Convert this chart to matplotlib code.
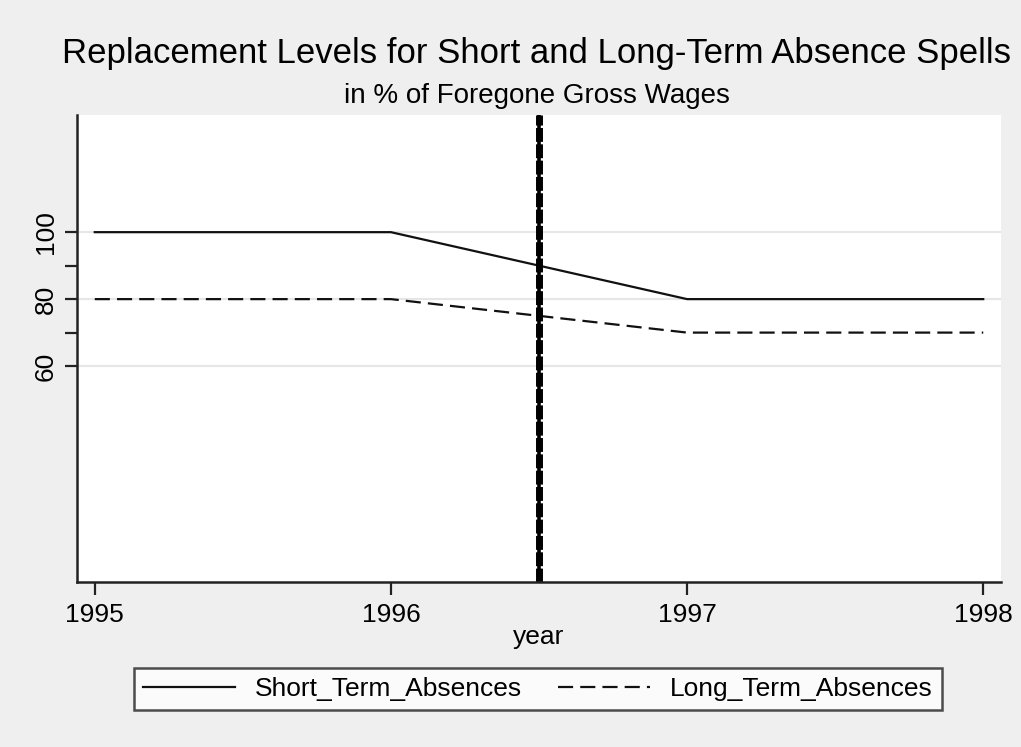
import matplotlib.pyplot as plt
from matplotlib import font_manager

years = [1995, 1996, 1997, 1998]
short_term = [100, 100, 80, 80]
long_term = [80, 80, 70, 70]
reform_year = 1996.5
y_major = [60, 80, 100]
y_minor = [70, 90]

names = {f.name for f in font_manager.fontManager.ttflist}
fam = 'Liberation Sans Narrow' if 'Liberation Sans Narrow' in names else 'Liberation Sans'
plt.rcParams['font.family'] = [fam, 'DejaVu Sans']

bg = '#efefef'
fig = plt.figure(figsize=(10.21, 7.47), dpi=100, facecolor=bg)
ax = fig.add_axes([77/1021, 1 - 582/747, (1001 - 77)/1021, (582 - 115)/747])
ax.set_facecolor('white')

ax.plot(years, short_term, color='#111111', lw=1.6, label='Short_Term_Absences')
ax.plot(years, long_term, color='#111111', lw=1.6, ls=(0, (6.8, 3.2)), label='Long_Term_Absences')
# thick reform marker: solid core plus wider dashed blocks
ax.axvline(reform_year, color='black', lw=2.6)
ax.axvline(reform_year, color='black', lw=5, ls=(0, (2, 0.35)))

ax.set_xlim(1994.94, 1998.06)
ax.set_ylim(-4.5, 135)
ax.set_xticks(years)
ax.set_yticks(y_major)
ax.set_yticks(y_minor, minor=True)
ax.grid(axis='y', which='major', color='#e6e6e6', lw=1.5)
ax.set_axisbelow(True)

for s in ['top', 'right']:
    ax.spines[s].set_visible(False)
for s in ['left', 'bottom']:
    ax.spines[s].set_linewidth(1.8)
    ax.spines[s].set_color('#222222')

ax.tick_params(axis='both', which='both', length=9, width=1.6, color='#222222', labelsize=19)
ax.tick_params(axis='x', which='major', pad=6)
ax.tick_params(axis='y', which='major', labelrotation=90, pad=5)
for t in ax.get_yticklabels():
    t.set_va('center')
ax.set_xlabel('year', fontsize=19, labelpad=-1)

fig.text(537/1021, 1 - 54/747, 'Replacement Levels for Short and Long-Term Absence Spells',
         ha='center', va='center', fontsize=25)
fig.text(537/1021, 1 - 96/747, 'in % of Foregone Gross Wages',
         ha='center', va='center', fontsize=20)

leg = fig.legend(loc='center', bbox_to_anchor=(538/1021, 1 - 689/747), ncol=2,
                 fontsize=19, frameon=True, fancybox=False, edgecolor='#222222',
                 handlelength=3.5, handletextpad=0.75, columnspacing=1.35,
                 borderpad=0.35, borderaxespad=0)
leg.get_frame().set_linewidth(1.8)

fig.savefig('out.png', dpi=100, facecolor=bg)
